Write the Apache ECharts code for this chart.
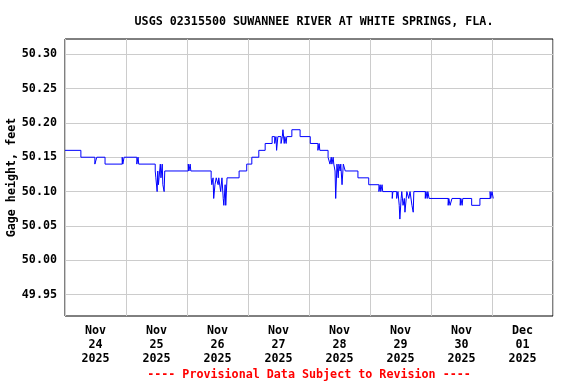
<!DOCTYPE html>
<html>
<head>
<meta charset="utf-8">
<script src="https://cdn.jsdelivr.net/npm/echarts@6/dist/echarts.min.js"></script>
<style>
html,body{margin:0;padding:0;background:#fff;}
#c{width:576px;height:384px;}
</style>
</head>
<body>
<div id="c"></div>
<script>
// Chart text
const titleText = 'USGS 02315500 SUWANNEE RIVER AT WHITE SPRINGS, FLA.';
const yAxisTitle = 'Gage height, feet';
const footerText = '---- Provisional Data Subject to Revision ----';

// Y tick labels (feet)
const yTicks = [49.95, 50.00, 50.05, 50.10, 50.15, 50.20, 50.25, 50.30];
const yMin = 49.919;
const yMax = 50.322;

// X axis: days (UTC midnight boundaries) from Nov 24 2025 to Dec 2 2025
const startDate = Date.UTC(2025, 10, 24);
const dayCount = 8;
const monthNames = ['Jan','Feb','Mar','Apr','May','Jun','Jul','Aug','Sep','Oct','Nov','Dec'];

// Gage height series, as breakpoints: hours since Nov 24 00:00 and the value held from then on
const hours = [
  0, 6.25, 11.75, 12.5, 15.75, 22.5, 22.75, 23.25, 28.25, 28.75, 29,
  35.5, 35.75, 36.25, 36.5, 36.75, 37, 37.5, 37.75, 38.25, 38.5, 39, 39.25,
  48.5, 48.75, 49.25, 49.5,
  57.5, 57.75, 58.25, 58.5, 59, 59.5, 60.25, 60.5, 61.25, 61.75, 62.25, 62.5, 63, 63.25, 63.75,
  68.5, 71.5, 73.5, 76.25, 78.75, 81.5, 82.5, 83, 83.25, 83.75, 85, 85.5, 85.75, 86.25, 86.5, 87, 87.25,
  89.25, 92.5, 96.5, 99.5, 100, 100.25, 103.5, 104.25, 104.75, 105, 105.5, 105.75,
  106.25, 106.5, 107, 107.5, 107.75, 108.25, 108.5, 109, 109.5, 110.25, 115.25, 119.5,
  123.5, 124, 124.25, 124.75, 125, 128.75, 129, 130.5, 131, 131.5, 131.75, 132.25, 132.5,
  133, 133.5, 133.75, 134.25, 134.5, 135.25, 135.75, 136.5, 137, 137.25,
  141.75, 142, 142.5, 142.75, 143.25, 150.75, 151, 151.5, 152.25, 155.5, 155.75, 156.25, 156.5,
  160, 163.25, 167.25, 167.5, 168, 168.5, 168.75
];
const heights = [
  50.16, 50.15, 50.14, 50.15, 50.14, 50.15, 50.14, 50.15, 50.14, 50.15, 50.14,
  50.13, 50.12, 50.10, 50.13, 50.11, 50.12, 50.14, 50.12, 50.14, 50.11, 50.10, 50.13,
  50.14, 50.13, 50.14, 50.13,
  50.12, 50.11, 50.12, 50.09, 50.11, 50.12, 50.11, 50.12, 50.10, 50.12, 50.09, 50.08, 50.11, 50.08, 50.12,
  50.13, 50.14, 50.15, 50.16, 50.17, 50.18, 50.17, 50.18, 50.16, 50.18, 50.17, 50.18, 50.19, 50.17, 50.18, 50.17, 50.18,
  50.19, 50.18, 50.17, 50.16, 50.17, 50.16, 50.15, 50.14, 50.15, 50.14, 50.15, 50.14,
  50.13, 50.09, 50.14, 50.12, 50.14, 50.13, 50.14, 50.11, 50.14, 50.13, 50.12, 50.11,
  50.10, 50.11, 50.10, 50.11, 50.10, 50.09, 50.10, 50.09, 50.10, 50.08, 50.06, 50.09, 50.10,
  50.08, 50.09, 50.07, 50.09, 50.10, 50.09, 50.10, 50.08, 50.07, 50.10,
  50.09, 50.10, 50.09, 50.10, 50.09, 50.08, 50.09, 50.08, 50.09, 50.08, 50.09, 50.08, 50.09,
  50.08, 50.09, 50.10, 50.09, 50.10, 50.09, 50.09
];

const HOUR = 3600000, DAY = 86400000;
const seriesData = hours.map((h, i) => [startDate + h * HOUR, heights[i]]);
const dayBounds = [];
for (let d = 0; d <= dayCount; d++) dayBounds.push(startDate + d * DAY);
const dayNoons = [];
for (let d = 0; d < dayCount; d++) dayNoons.push(startDate + d * DAY + 12 * HOUR);

const FONT = 'DejaVu Sans Mono';
const FS = 11.7;
const chart = echarts.init(document.getElementById('c'), null, {renderer: 'canvas'});
chart.setOption({
  animation: false,
  backgroundColor: '#ffffff',
  title: {
    text: titleText,
    left: 309, top: 11, textAlign: 'center',
    textStyle: {fontFamily: FONT, fontWeight: 'bold', fontSize: FS, color: '#000'}
  },
  graphic: [{
    type: 'text', x: 309, y: 369,
    style: {text: footerText, fill: '#ff0000', font: 'bold ' + FS + 'px "DejaVu Sans Mono"', textAlign: 'center'}
  }],
  grid: {left: 65, right: 23, top: 39, bottom: 68, outerBoundsMode: 'none', containLabel: false,
         show: true, borderColor: '#000', borderWidth: 1, backgroundColor: 'transparent'},
  xAxis: {
    type: 'value', min: startDate, max: startDate + dayCount * DAY,
    axisLine: {show: false},
    axisTick: {show: false, customValues: dayBounds},
    splitLine: {show: true, lineStyle: {color: '#cccccc', width: 1}},
    axisLabel: {
      customValues: dayNoons,
      margin: 8, lineHeight: 14,
      fontFamily: FONT, fontWeight: 'bold', fontSize: FS, color: '#000',
      formatter: v => {
        const d = new Date(v);
        return monthNames[d.getUTCMonth()] + '\n' + String(d.getUTCDate()).padStart(2, '0') + '\n' + d.getUTCFullYear();
      }
    }
  },
  yAxis: {
    type: 'value', min: yMin, max: yMax,
    name: yAxisTitle, nameLocation: 'middle', nameGap: 47, nameRotate: 90, nameMoveOverlap: false,
    nameTextStyle: {fontFamily: FONT, fontWeight: 'bold', fontSize: FS, color: '#000'},
    axisLine: {show: false},
    axisTick: {show: false, customValues: yTicks},
    splitLine: {show: true, lineStyle: {color: '#cccccc', width: 1}},
    axisLabel: {
      customValues: yTicks, margin: 8,
      fontFamily: FONT, fontWeight: 'bold', fontSize: FS, color: '#000',
      formatter: v => v.toFixed(2)
    }
  },
  series: [{
    type: 'line', step: 'end', data: seriesData, showSymbol: false,
    lineStyle: {color: '#0000ff', width: 1}, itemStyle: {color: '#0000ff'}
  }]
});
</script>
</body>
</html>
